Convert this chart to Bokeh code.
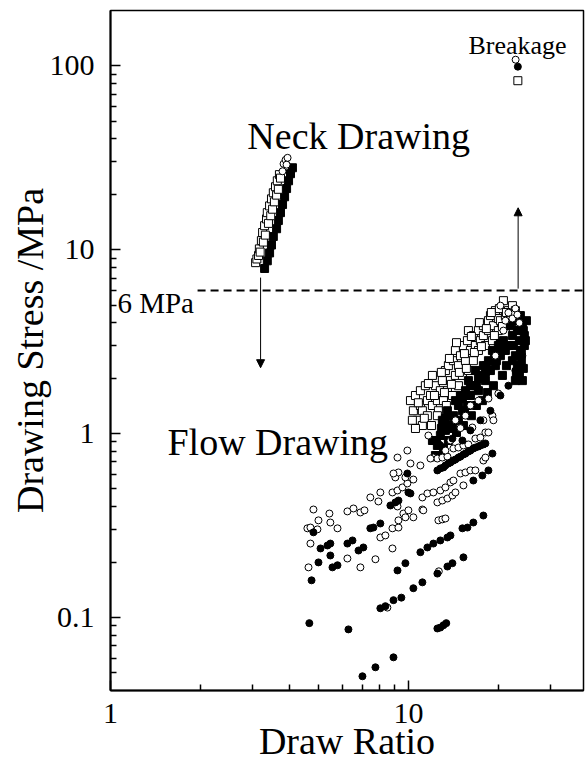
from bokeh.plotting import figure
from bokeh.models import Range1d, FixedTicker, Arrow, NormalHead
from bokeh.core.properties import value
from bokeh.embed import file_html
from bokeh.resources import INLINE

FONT = "Liberation Serif"

# ---- axes ticks ----
x_major = [1, 10]
x_minor = [2, 3, 4, 5, 6, 7, 8, 9, 20, 30]
y_major = [0.1, 1, 10, 100]
y_minor = [0.05, 0.06, 0.07, 0.08, 0.09, 0.2, 0.3, 0.4, 0.5, 0.6, 0.7, 0.8, 0.9,
           2, 3, 4, 5, 6, 7, 8, 9, 20, 30, 40, 50, 60, 70, 80, 90]
x_labels = {1: "1", 10: "10"}
y_labels = {0.1: "0.1", 1: "1", 10: "10", 100: "100"}
x_lim = [1, 38.7]
y_lim = [0.04, 200]

# ---- neck drawing data ----
neck_open_sq_x = [3.07, 3.10, 3.14, 3.16, 3.18, 3.21, 3.24, 3.26, 3.29, 3.31, 3.34, 3.36, 3.39,
                  3.42, 3.45, 3.47, 3.50, 3.52, 3.55, 3.58, 3.61, 3.63, 3.66, 3.69, 3.72]
neck_open_sq_y = [8.5, 8.9, 9.3, 10.1, 9.7, 11.2, 12.4, 11.0, 13.5, 12.0, 14.7, 15.9, 13.9,
                  17.3, 15.3, 18.9, 16.6, 20.4, 18.2, 22.0, 19.8, 23.7, 21.3, 25.6, 24.5]
neck_filled_sq_x = [3.29, 3.36, 3.42, 3.47, 3.52, 3.61, 3.66, 3.72, 3.78, 3.84, 3.90, 3.96, 4.02, 4.08]
neck_filled_sq_y = [7.9, 8.7, 9.6, 10.6, 11.8, 13.0, 14.4, 15.9, 17.6, 19.4, 21.5, 23.7, 25.9, 27.9]
neck_open_c_x = [3.78, 3.81, 3.87, 3.90, 3.93]
neck_open_c_y = [26.7, 29.3, 30.8, 29.0, 31.6]

# ---- breakage ----
brk_open_c_x = [22.9]
brk_open_c_y = [108]
brk_filled_c_x = [23.3]
brk_filled_c_y = [99]
brk_open_sq_x = [23.3]
brk_open_sq_y = [83]

# ---- flow drawing data ----
flow_open_sq_x = [10.16, 10.39, 10.56, 10.72, 10.97, 10.97, 11.14, 11.14, 11.40, 11.58, 11.58, 11.86,
                  12.04, 12.04, 12.32, 12.51, 12.61, 12.80, 13.0, 13.11, 13.31, 13.52, 13.62, 13.84,
                  14.05, 14.16, 14.38, 14.38, 14.72, 14.72, 14.95, 15.18, 15.30, 15.54, 15.78, 15.90,
                  15.90, 16.15, 16.52, 16.52, 16.78, 17.18, 17.18, 17.44, 17.85, 17.85, 18.13, 18.56,
                  18.56, 18.85, 19.14, 19.29, 19.59, 20.04, 20.04, 20.36, 20.84, 21.16, 21.66, 21.66,
                  22.0, 22.34, 22.51, 22.86,
                  10.31, 10.80, 11.31, 11.67, 12.23, 12.90, 13.21, 13.73, 13.94, 14.50, 14.83, 15.42,
                  15.65, 16.27, 16.65, 17.31, 17.58, 18.27, 18.99, 19.44, 20.20, 20.68, 21.33, 22.17,
                  22.69, 10.56, 11.95, 12.51, 13.41]
flow_open_sq_y = [1.51, 1.33, 1.61, 1.18, 1.42, 1.71, 1.105, 1.33, 1.82, 1.51, 1.25, 1.61,
                  1.42, 2.07, 1.82, 1.51, 1.33, 1.71, 1.94, 1.51, 2.20, 1.71, 2.34, 1.94,
                  1.61, 2.49, 2.83, 2.07, 1.82, 2.34, 2.65, 2.07, 3.01, 2.49, 3.20, 3.63,
                  2.20, 2.83, 2.49, 3.41, 3.01, 3.63, 2.83, 3.20, 3.86, 3.41, 3.01, 4.11,
                  3.63, 4.38, 3.20, 3.86, 4.66, 3.63, 4.22, 4.11, 5.28, 4.38, 3.86, 4.66,
                  4.22, 4.96, 3.63, 4.66,
                  1.18, 1.47, 1.21, 1.87, 1.61, 2.15, 1.67, 2.56, 1.85, 3.12, 2.15, 2.72,
                  2.26, 3.37, 2.76, 4.01, 2.97, 3.72, 4.55, 3.41, 4.78, 3.82, 4.55, 4.01,
                  4.43, 1.065, 1.105, 1.25, 1.42]
flow_filled_sq_x = [22.0, 22.34, 22.51, 22.86, 22.86, 23.22, 23.22, 23.58, 23.58, 23.76, 23.76, 23.94,
                    24.13, 24.13, 24.50, 24.50, 24.89, 22.86, 12.80, 13.0, 13.31, 13.52, 13.84, 14.16,
                    14.38, 14.72, 14.95, 15.18, 15.54, 15.78, 15.90, 16.15, 16.52, 16.78, 17.18, 17.44,
                    17.85, 18.13, 18.56, 18.85, 19.14, 19.59, 20.04, 20.36, 20.84, 21.16, 12.32, 12.51,
                    12.04,
                    23.40, 24.31, 24.70, 23.94, 24.31, 23.04, 22.34, 21.66, 21.33, 20.68, 19.74, 19.29,
                    18.41, 17.71, 16.91, 16.27, 15.30, 14.50, 13.62, 13.11, 12.61, 15.65, 16.91, 18.13,
                    19.89, 15.42, 14.27,
                    13.31, 14.05, 14.72, 15.18, 16.15, 17.18, 18.27, 19.44, 20.36, 12.90, 13.52, 12.42]
flow_filled_sq_y = [3.86, 3.41, 3.01, 4.11, 2.65, 3.63, 2.34, 3.20, 2.07, 4.38, 2.83, 2.49,
                    3.86, 1.94, 3.41, 3.01, 4.11, 1.94, 0.975, 1.18, 1.04, 1.33, 1.105, 1.25,
                    1.51, 1.18, 1.61, 1.33, 1.71, 1.42, 1.94, 1.61, 1.82, 2.20, 1.71, 2.07,
                    2.34, 1.94, 2.49, 2.20, 2.83, 2.34, 3.01, 2.65, 3.20, 2.83, 0.759, 0.861,
                    0.916,
                    4.22, 3.63, 3.20, 2.83, 2.26, 2.15, 2.49, 3.01, 2.34, 2.07, 2.49, 1.82,
                    1.67, 1.51, 1.42, 1.25, 1.105, 1.013, 0.916, 0.829, 0.759, 1.61, 1.82, 2.15,
                    2.76, 1.30, 1.18,
                    1.206, 1.065, 1.42, 1.55, 1.82, 1.99, 2.34, 2.65, 3.09, 1.065, 1.105, 0.916]
flow_open_c_x = [4.80, 4.58, 4.69, 4.95, 4.99, 5.43, 5.47, 5.78, 4.69, 4.62, 6.24, 6.54, 6.90, 7.12,
                 6.24, 6.90, 7.75, 7.45, 8.05, 7.93, 8.84, 8.05, 8.37, 8.84, 9.26, 8.84, 9.19, 9.55,
                 9.92, 10.39, 9.04, 9.26, 8.91, 9.77, 9.19, 9.92, 10.16, 10.97, 10.39, 9.62, 10.0,
                 9.26, 9.77, 11.14, 11.14, 11.58, 9.19, 8.50, 12.65,
                 12.13, 12.80, 13.31, 13.84, 14.16, 14.95, 15.54, 16.15, 16.78, 17.85, 18.13,
                 12.51, 13.0, 13.52, 14.05, 14.38, 15.30, 11.22, 12.61, 13.0, 13.31,
                 11.67, 12.13, 12.51, 13.0, 13.52, 14.16, 14.72, 15.30, 15.90, 16.78, 17.44, 18.13,
                 18.56, 16.39, 17.85, 19.14, 19.29, 18.56, 20.04, 20.36, 21.16, 21.66, 22.34, 22.86,
                 23.22, 23.58, 20.84, 19.59, 14.38, 14.95, 15.54, 16.15, 17.18, 13.84, 13.31, 11.86]
flow_open_c_y = [0.386, 0.305, 0.308, 0.301, 0.337, 0.367, 0.328, 0.305, 0.252, 0.187, 0.377, 0.391,
                 0.372, 0.382, 0.209, 0.187, 0.207, 0.449, 0.478, 0.427, 0.237, 0.272, 0.279, 0.305,
                 0.308, 0.478, 0.490, 0.509, 0.535, 0.562, 0.577, 0.614, 0.606, 0.577, 0.740, 0.808,
                 0.687, 0.670, 0.350, 0.367, 0.382, 0.337, 0.350, 0.386, 0.449, 0.472, 0.401, 0.113,
                 0.178,
                 0.478, 0.490, 0.509, 0.542, 0.555, 0.606, 0.614, 0.630, 0.630, 0.713, 0.740,
                 0.422, 0.432, 0.443, 0.460, 0.478, 0.522, 0.382, 0.337, 0.341, 0.345,
                 0.975, 0.740, 0.731, 0.740, 0.749, 0.829, 0.839, 0.861, 0.872, 0.939, 0.951, 1.013,
                 1.013, 1.078, 1.18, 1.25, 1.18, 1.55, 1.65, 4.96, 4.11, 4.54, 4.22, 4.78,
                 4.43, 4.0, 3.63, 2.65, 1.18, 1.07, 1.25, 1.42, 1.51, 0.916, 0.808, 0.731]
flow_filled_c_x = [7.01, 7.75, 8.91, 12.51, 12.80, 13.11, 13.40,
                   4.65, 6.29, 4.73,
                   8.05, 8.37, 8.91, 9.47, 10.39, 11.14, 12.51, 13.52, 14.05, 15.30,
                   9.19, 9.77, 10.97, 11.58, 12.13, 12.80, 13.52, 13.84, 15.18, 15.78, 16.52, 17.85,
                   4.80, 5.07, 5.35, 5.47, 5.47, 4.99, 5.56, 5.78, 6.24, 6.49, 6.80, 7.06, 7.45, 7.63,
                   8.05, 8.70, 9.04, 9.26, 9.92, 10.16, 10.0,
                   12.51, 12.80, 13.11, 13.31, 13.62, 13.84, 14.16, 14.38, 14.72, 14.95, 15.30, 15.54,
                   15.90, 16.15, 16.52, 16.78, 17.18, 17.44, 17.85, 18.13,
                   16.52, 17.71, 18.56, 19.14,
                   12.80, 14.05, 15.18, 16.15, 17.44, 18.85, 20.36, 21.66, 22.86, 23.76, 24.13]
flow_filled_c_y = [0.0478, 0.0535, 0.0606, 0.087, 0.088, 0.0906, 0.093,
                   0.093, 0.086, 0.159,
                   0.112, 0.115, 0.124, 0.128, 0.144, 0.155, 0.173, 0.189, 0.197, 0.212,
                   0.180, 0.197, 0.226, 0.240, 0.252, 0.262, 0.272, 0.279, 0.305, 0.308, 0.328, 0.358,
                   0.290, 0.237, 0.246, 0.252, 0.217, 0.199, 0.187, 0.192, 0.252, 0.262, 0.231, 0.240,
                   0.305, 0.308, 0.324, 0.406, 0.422, 0.432, 0.606, 0.472, 0.478,
                   0.630, 0.646, 0.654, 0.670, 0.687, 0.696, 0.713, 0.722, 0.740, 0.749, 0.769, 0.778,
                   0.798, 0.808, 0.829, 0.839, 0.850, 0.861, 0.872, 0.883,
                   0.555, 0.591, 0.630, 0.778,
                   0.861, 0.939, 0.916, 1.04, 1.18, 1.33, 1.61, 1.82, 2.20, 3.20, 2.65]

# ---- annotations ----
threshold = 6
dash_x = [1.96, 38.7]
labels_text = ["Neck Drawing", "Flow Drawing"]
labels_x = [2.88, 1.553]
labels_y = [41.7, 0.894]

p = figure(width=585, height=764, x_axis_type="log", y_axis_type="log",
           x_range=Range1d(*x_lim), y_range=Range1d(*y_lim),
           output_backend="svg", toolbar_location=None,
           min_border_left=110, min_border_right=2, min_border_top=10, min_border_bottom=74)
p.grid.visible = False
p.outline_line_color = "black"
p.outline_line_width = 1.5
p.background_fill_color = "white"
p.border_fill_color = "white"

p.xaxis.ticker = FixedTicker(ticks=x_major, minor_ticks=x_minor)
p.yaxis.ticker = FixedTicker(ticks=y_major, minor_ticks=y_minor)
p.xaxis.major_label_overrides = x_labels
p.yaxis.major_label_overrides = y_labels
p.xaxis.axis_label = "Draw Ratio"
p.yaxis.axis_label = "Drawing Stress /MPa"
for ax in (p.xaxis[0], p.yaxis[0]):
    ax.major_tick_in = 10
    ax.major_tick_out = 0
    ax.minor_tick_in = 6
    ax.minor_tick_out = 0
    ax.axis_line_width = 2
    ax.axis_line_color = "black"
    ax.major_tick_line_width = 1.5
    ax.minor_tick_line_width = 1.5
    ax.major_tick_line_color = "black"
    ax.minor_tick_line_color = "black"
    ax.major_label_text_font = FONT
    ax.major_label_text_font_size = "30px"
    ax.major_label_text_color = "black"
    ax.axis_label_text_font = FONT
    ax.axis_label_text_font_size = "38px"
    ax.axis_label_text_font_style = "normal"
    ax.axis_label_text_color = "black"
p.xaxis[0].major_label_standoff = 13
p.yaxis[0].major_label_standoff = 16
p.yaxis[0].axis_label_standoff = -4
p.xaxis[0].axis_label_standoff = -6

# dashed threshold line
p.segment(x0=[dash_x[0]], y0=[threshold], x1=[dash_x[1]], y1=[threshold],
          line_color="black", line_width=2, line_dash="8 5")

# markers
def sq(x, y, fill):
    p.scatter(x=x, y=y, marker="square", size=8, fill_color=fill, line_color="black", line_width=1)

def ci(x, y, fill):
    p.scatter(x=x, y=y, marker="circle", size=7, fill_color=fill, line_color="black", line_width=1)

sq(neck_filled_sq_x, neck_filled_sq_y, "black")
sq(neck_open_sq_x, neck_open_sq_y, "white")
ci(neck_open_c_x, neck_open_c_y, "white")

sq(flow_open_sq_x, flow_open_sq_y, "white")
sq(flow_filled_sq_x, flow_filled_sq_y, "black")
ci(flow_open_c_x, flow_open_c_y, "white")
ci(flow_filled_c_x, flow_filled_c_y, "black")

sq(brk_open_sq_x, brk_open_sq_y, "white")
ci(brk_open_c_x, brk_open_c_y, "white")
ci(brk_filled_c_x, brk_filled_c_y, "black")

# arrows
p.add_layout(Arrow(end=NormalHead(size=8, fill_color="black", line_color="black", line_width=1),
                   x_start=3.19, y_start=7.05, x_end=3.19, y_end=2.28,
                   line_color="black", line_width=1))
p.add_layout(Arrow(end=NormalHead(size=8, fill_color="black", line_color="black", line_width=1),
                   x_start=23.35, y_start=6.14, x_end=23.35, y_end=16.9,
                   line_color="black", line_width=1))

# texts
p.text(x=labels_x, y=labels_y, text=labels_text, text_font=value(FONT),
       text_font_size=value("38px"), text_color="black", text_baseline="alphabetic", text_align="left")
p.text(x=[15.9], y=[128.5], text=["Breakage"], text_font=value(FONT),
       text_font_size=value("26px"), text_color="black", text_baseline="alphabetic", text_align="left")
p.text(x=[1.055], y=[5.15], text=["6 MPa"], text_font=value(FONT),
       text_font_size=value("29px"), text_color="black", text_baseline="alphabetic", text_align="left")

open("out.html", "w").write(file_html(p, INLINE))
